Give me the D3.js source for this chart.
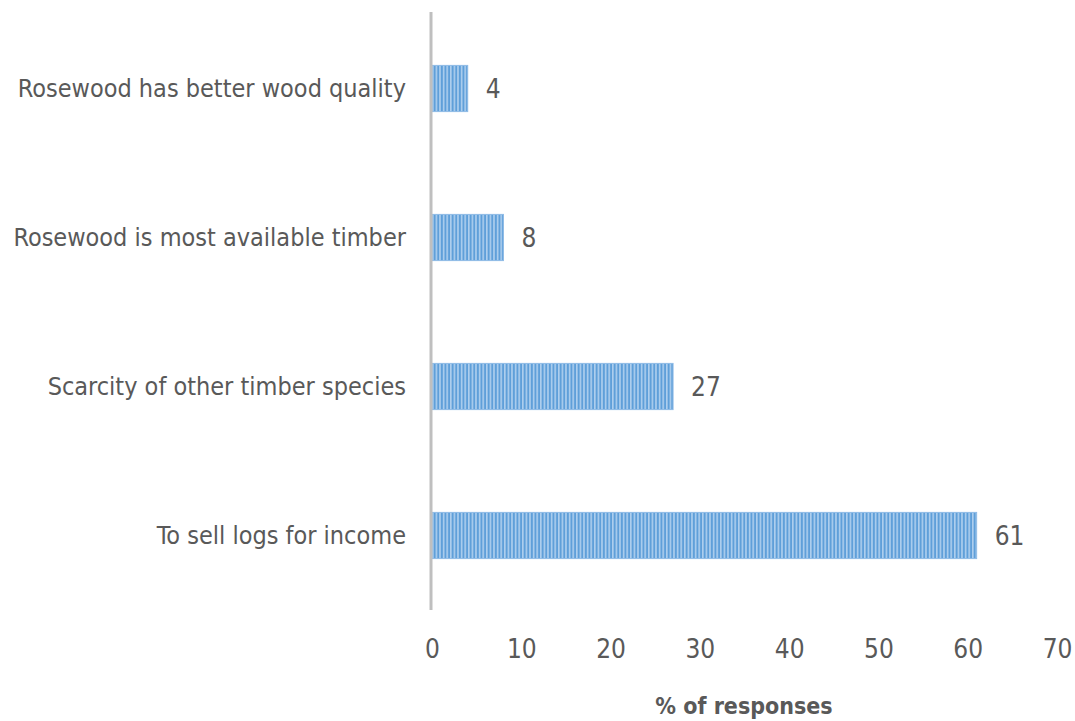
<!DOCTYPE html>
<html>
<head>
<meta charset="utf-8">
<script src="https://cdn.jsdelivr.net/npm/d3@7"></script>
<style>
  html, body { margin: 0; padding: 0; background: #fff; }
  svg text { font-family: "Liberation Sans Narrow", "DejaVu Sans Condensed", "Liberation Sans", sans-serif; fill: #595959; }
</style>
</head>
<body>
<svg id="chart" width="1075" height="721"></svg>
<script>
// Reasons given for harvesting rosewood (% of responses)
const categories = [
  "Rosewood has better wood quality",
  "Rosewood is most available timber",
  "Scarcity of other timber species",
  "To sell logs for income"
];
const values = [4, 8, 27, 61];
const xTicks = [0, 10, 20, 30, 40, 50, 60, 70];
const xTitle = "% of responses";

const svg = d3.select("#chart");

const x = d3.scaleLinear().domain([0, 70]).range([432, 1057]);
const y = d3.scaleBand().domain(categories).range([14, 610]).paddingInner(0.69).paddingOuter(0.345);

// Vertical stripe fill for the bars
const defs = svg.append("defs");
const pat = defs.append("pattern")
  .attr("id", "stripes")
  .attr("patternUnits", "userSpaceOnUse")
  .attr("width", 3.6).attr("height", 10);
pat.append("rect").attr("width", 3.6).attr("height", 10).attr("fill", "#5f9fd9");
pat.append("rect").attr("x", 0).attr("width", 1.6).attr("height", 10).attr("fill", "#aecfee");

// Bars
svg.append("g").selectAll("rect")
  .data(values)
  .join("rect")
  .attr("x", x(0))
  .attr("y", (d, i) => y(categories[i]))
  .attr("width", d => x(d) - x(0))
  .attr("height", y.bandwidth())
  .attr("fill", "url(#stripes)")
  .attr("stroke", "#8fbbe6")
  .attr("stroke-width", 1);

// Value labels
svg.append("g").selectAll("text")
  .data(values)
  .join("text")
  .attr("x", d => x(d) + 18)
  .attr("y", (d, i) => y(categories[i]) + y.bandwidth() / 2)
  .attr("dy", "0.36em")
  .attr("font-size", 26)
  .text(d => d);

// Category axis (left)
const yAxis = svg.append("g")
  .attr("transform", `translate(${x(0) - 1},0)`)
  .call(d3.axisLeft(y).tickSize(0).tickPadding(25));
yAxis.select(".domain").attr("stroke", "#bfbfbf").attr("stroke-width", 3)
  .attr("d", "M0,12V610");
yAxis.selectAll(".tick text").attr("font-size", 25).attr("fill", "#595959");

// Value axis (bottom), labels only
const xAxis = svg.append("g")
  .attr("transform", "translate(0,640)")
  .call(d3.axisBottom(x).tickValues(xTicks).tickSize(0).tickPadding(0));
xAxis.select(".domain").remove();
xAxis.selectAll(".tick text").attr("font-size", 26).attr("dy", "0.71em").attr("fill", "#595959");

// Axis title
svg.append("text")
  .attr("x", 744)
  .attr("y", 714)
  .attr("text-anchor", "middle")
  .attr("font-size", 23)
  .attr("font-weight", "bold")
  .text(xTitle);
</script>
</body>
</html>
